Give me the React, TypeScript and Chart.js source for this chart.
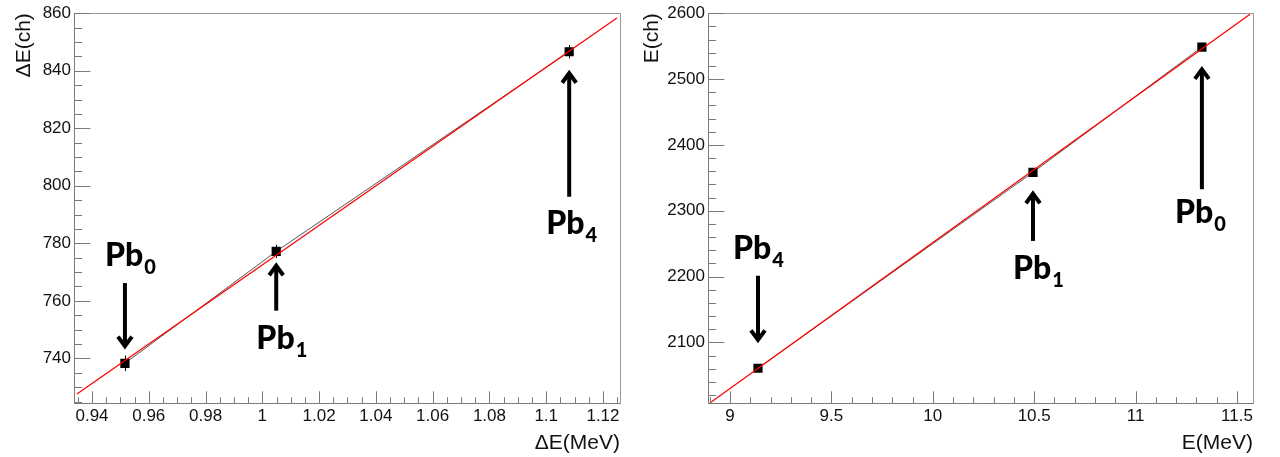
import React, { useEffect, useRef } from "react";
import { Chart, registerables } from "chart.js";

Chart.register(...registerables);

// ---------------- Left panel: ΔE calibration ----------------
const dePeakSubs = ["0", "1", "4"];
const deMeV = [0.9516, 1.0049, 1.1081];
const deCh = [738.3, 777.2, 846.6];
const deChErr = [2.7, 2.3, 2.3];
const deFitMeV = [0.9347, 1.1249];
const deFitCh = [727.6, 858.3];
const deXMajors = [0.94, 0.96, 0.98, 1.0, 1.02, 1.04, 1.06, 1.08, 1.1, 1.12];
const deXLabels = ["0.94", "0.96", "0.98", "1", "1.02", "1.04", "1.06", "1.08", "1.1", "1.12"];
const deYMajors = [740, 760, 780, 800, 820, 840, 860];
const deYLabels = ["740", "760", "780", "800", "820", "840", "860"];
// annotation anchors (data units)
const deLabelX = [0.9446, 0.9979, 1.1];
const deLabelY = [772.1, 743.4, 783.1];
const deArrowTail = [766.2, 756.6, 796.2];
const deArrowTip = [743.4, 773.1, 840.0];

// ---------------- Right panel: E calibration ----------------
const ePeakSubs = ["4", "1", "0"];
const eMeV = [9.138, 10.494, 11.327];
const eCh = [2060.7, 2358.3, 2548.6];
const eChErr = [0, 0, 0];
const eFitMeV = [8.901, 11.564];
const eFitCh = [2008, 2598.5];
const eXMajors = [9, 9.5, 10, 10.5, 11, 11.5];
const eXLabels = ["9", "9.5", "10", "10.5", "11", "11.5"];
const eYMajors = [2100, 2200, 2300, 2400, 2500, 2600];
const eYLabels = ["2100", "2200", "2300", "2400", "2500", "2600"];
const eLabelX = [9.015, 10.395, 11.194];
const eLabelY = [2226.9, 2196.7, 2281.3];
const eArrowTail = [2201.2, 2254.1, 2332.6];
const eArrowTip = [2100, 2329.6, 2518.4];

type Panel = {
  x: number[]; y: number[]; yErr: number[];
  fitX: number[]; fitY: number[];
  xMin: number; xMax: number; yMin: number; yMax: number;
  xMajors: number[]; xLabels: string[]; xMinor: number;
  yMajors: number[]; yLabels: string[]; yMinor: number;
  xTitle: string; yTitle: string;
  subs: string[]; labelX: number[]; labelY: number[]; tail: number[]; tip: number[];
  yAxisWidth: number; padRight: number; yTitlePad: number;
};

const leftPanel: Panel = {
  x: deMeV, y: deCh, yErr: deChErr, fitX: deFitMeV, fitY: deFitCh,
  xMin: 0.93366, xMax: 1.126, yMin: 724.5, yMax: 860,
  xMajors: deXMajors, xLabels: deXLabels, xMinor: 0.005,
  yMajors: deYMajors, yLabels: deYLabels, yMinor: 5,
  xTitle: "ΔE(MeV)", yTitle: "ΔE(ch)",
  subs: dePeakSubs, labelX: deLabelX, labelY: deLabelY, tail: deArrowTail, tip: deArrowTip,
  yAxisWidth: 74, padRight: 20, yTitlePad: 12,
};

const rightPanel: Panel = {
  x: eMeV, y: eCh, yErr: eChErr, fitX: eFitMeV, fitY: eFitCh,
  xMin: 8.8915, xMax: 11.579, yMin: 2007.9, yMax: 2600,
  xMajors: eXMajors, xLabels: eXLabels, xMinor: 0.1,
  yMajors: eYMajors, yLabels: eYLabels, yMinor: 20,
  xTitle: "E(MeV)", yTitle: "E(ch)",
  subs: ePeakSubs, labelX: eLabelX, labelY: eLabelY, tail: eArrowTail, tip: eArrowTip,
  yAxisWidth: 68, padRight: 27, yTitlePad: 0,
};

const AXIS_FONT = "'Liberation Sans', Arial, Helvetica, sans-serif";
const ANNOT_FONT = "Lato, 'Open Sans', sans-serif";

function minorValues(min: number, max: number, step: number): number[] {
  const out: number[] = [];
  const start = Math.ceil(min / step - 1e-6);
  const end = Math.floor(max / step + 1e-6);
  for (let i = start; i <= end; i++) out.push(i * step);
  return out;
}

function makePlugin(p: Panel) {
  return {
    id: "rootStyle",
    beforeDatasetsDraw(chart: any) {
      const ctx = chart.ctx;
      const xs = chart.scales.x;
      const ys = chart.scales.y;
      ctx.save();
      ctx.strokeStyle = "#000";
      ctx.lineWidth = 1;
      p.x.forEach((xv, i) => {
        const e = p.yErr[i];
        if (!e) return;
        const px = Math.round(xs.getPixelForValue(xv)) + 0.5;
        ctx.beginPath();
        ctx.moveTo(px, ys.getPixelForValue(p.y[i] - e));
        ctx.lineTo(px, ys.getPixelForValue(p.y[i] + e));
        ctx.stroke();
      });
      ctx.restore();
    },
    afterDatasetsDraw(chart: any) {
      const ctx = chart.ctx;
      const a = chart.chartArea;
      const xs = chart.scales.x;
      const ys = chart.scales.y;
      ctx.save();
      // frame
      ctx.strokeStyle = "#9a9a9a";
      ctx.lineWidth = 1;
      ctx.strokeRect(Math.round(a.left) + 0.5, Math.round(a.top) + 0.5,
        Math.round(a.right - a.left), Math.round(a.bottom - a.top));
      ctx.strokeStyle = "#7a7a7a";
      ctx.beginPath();
      ctx.moveTo(Math.round(a.left) + 0.5, a.top);
      ctx.lineTo(Math.round(a.left) + 0.5, a.bottom);
      ctx.moveTo(a.left, Math.round(a.bottom) + 0.5);
      ctx.lineTo(a.right, Math.round(a.bottom) + 0.5);
      ctx.stroke();
      // ticks
      const isMajor = (v: number, majors: number[], step: number) =>
        majors.some((m) => Math.abs(m - v) < step * 0.01);
      const xLenMajor = 0.03 * (a.bottom - a.top);
      const yLenMajor = 0.03 * (a.right - a.left);
      ctx.beginPath();
      minorValues(p.xMin, p.xMax, p.xMinor).forEach((v) => {
        const px = Math.round(xs.getPixelForValue(v)) + 0.5;
        const len = isMajor(v, p.xMajors, p.xMinor) ? xLenMajor : xLenMajor / 2;
        ctx.moveTo(px, a.bottom);
        ctx.lineTo(px, a.bottom - len);
      });
      minorValues(p.yMin, p.yMax, p.yMinor).forEach((v) => {
        const py = Math.round(ys.getPixelForValue(v)) + 0.5;
        const len = isMajor(v, p.yMajors, p.yMinor) ? yLenMajor : yLenMajor / 2;
        ctx.moveTo(a.left, py);
        ctx.lineTo(a.left + len, py);
      });
      ctx.stroke();

      // annotations
      ctx.fillStyle = "#000";
      ctx.strokeStyle = "#000";
      ctx.textBaseline = "alphabetic";
      ctx.textAlign = "left";
      p.subs.forEach((sub, i) => {
        const lx = xs.getPixelForValue(p.labelX[i]);
        const ly = ys.getPixelForValue(p.labelY[i]);
        ctx.font = `900 32px ${ANNOT_FONT}`;
        ctx.fillText("Pb", lx, ly);
        const w = ctx.measureText("Pb").width;
        ctx.font = `900 20px ${ANNOT_FONT}`;
        ctx.fillText(sub, lx + w + 1, ly + 8);

        const ax = xs.getPixelForValue(p.x[i]);
        const t0 = ys.getPixelForValue(p.tail[i]);
        const t1 = ys.getPixelForValue(p.tip[i]);
        const dir = t1 > t0 ? 1 : -1;
        ctx.lineWidth = 4;
        ctx.lineCap = "butt";
        ctx.beginPath();
        ctx.moveTo(ax, t0);
        ctx.lineTo(ax, t1 - dir * 2.5);
        ctx.stroke();
        ctx.lineJoin = "miter";
        ctx.beginPath();
        ctx.moveTo(ax - 7, t1 - dir * 12);
        ctx.lineTo(ax, t1 - dir * 2.5);
        ctx.lineTo(ax + 7, t1 - dir * 12);
        ctx.stroke();
      });
      ctx.restore();
    },
  };
}

function PanelChart({ p }: { p: Panel }) {
  const ref = useRef<HTMLCanvasElement | null>(null);
  useEffect(() => {
    if (!ref.current) return;
    const chart = new Chart(ref.current, {
      type: "scatter",
      data: {
        datasets: [
          {
            label: "fit",
            data: p.fitX.map((x, i) => ({ x, y: p.fitY[i] })),
            showLine: true,
            borderColor: "#ff0000",
            borderWidth: 1.3,
            pointRadius: 0,
            fill: false,
          },
          {
            label: "data",
            data: p.x.map((x, i) => ({ x, y: p.y[i] })),
            showLine: true,
            borderColor: "#555555",
            borderWidth: 1,
            pointStyle: "rect",
            pointRadius: 6.5,
            pointBackgroundColor: "#000",
            pointBorderColor: "#000",
            pointBorderWidth: 0,
            fill: false,
          },
        ],
      },
      options: {
        animation: false,
        responsive: false,
        devicePixelRatio: 1,
        layout: { padding: { left: 0, top: 10, right: p.padRight, bottom: 0 } },
        plugins: { legend: { display: false }, tooltip: { enabled: false } },
        scales: {
          x: {
            type: "linear",
            min: p.xMin,
            max: p.xMax,
            grid: { display: false, drawTicks: false },
            border: { display: false },
            afterBuildTicks: (s: any) => {
              s.ticks = p.xMajors.map((v) => ({ value: v }));
            },
            afterFit: (s: any) => {
              s.height = 54;
            },
            ticks: {
              autoSkip: false,
              maxRotation: 0,
              padding: 3,
              color: "#111",
              font: { family: AXIS_FONT, size: 17 },
              callback: (_v: any, i: number) => p.xLabels[i],
            },
            title: {
              display: true,
              text: p.xTitle,
              align: "end",
              color: "#111",
              font: { family: AXIS_FONT, size: 21 },
              padding: { top: 0, bottom: 1 },
            },
          },
          y: {
            type: "linear",
            min: p.yMin,
            max: p.yMax,
            grid: { display: false, drawTicks: false },
            border: { display: false },
            afterBuildTicks: (s: any) => {
              s.ticks = p.yMajors.map((v) => ({ value: v }));
            },
            afterFit: (s: any) => {
              s.width = p.yAxisWidth;
            },
            ticks: {
              autoSkip: false,
              padding: 3,
              color: "#111",
              font: { family: AXIS_FONT, size: 17 },
              callback: (_v: any, i: number) => p.yLabels[i],
            },
            title: {
              display: true,
              text: p.yTitle,
              align: "end",
              color: "#111",
              font: { family: AXIS_FONT, size: 21 },
              padding: { top: p.yTitlePad, bottom: 0 },
            },
          },
        },
      } as any,
      plugins: [makePlugin(p)],
    });
    return () => chart.destroy();
  }, [p]);
  return <canvas ref={ref} width={640} height={457} style={{ display: "block", width: 640, height: 457 }} />;
}

export default function App() {
  return (
    <div
      style={{
        position: "fixed",
        left: 0,
        top: 0,
        width: 1280,
        height: 457,
        display: "flex",
        background: "#fff",
      }}
    >
      <PanelChart p={leftPanel} />
      <PanelChart p={rightPanel} />
    </div>
  );
}
